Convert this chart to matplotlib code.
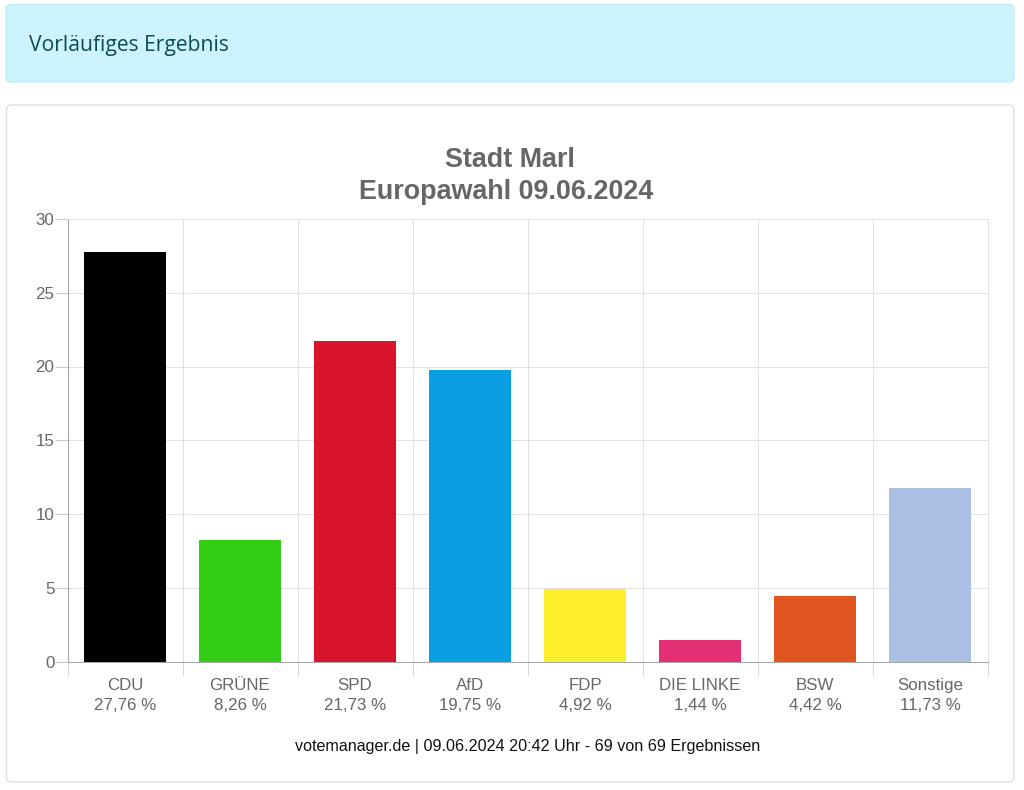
import matplotlib
matplotlib.use("Agg")
import matplotlib.pyplot as plt
from matplotlib.patches import FancyBboxPatch

parties = ["CDU", "GRÜNE", "SPD", "AfD", "FDP", "DIE LINKE", "BSW", "Sonstige"]
shares = [27.76, 8.26, 21.73, 19.75, 4.92, 1.44, 4.42, 11.73]
share_labels = ["27,76 %", "8,26 %", "21,73 %", "19,75 %", "4,92 %", "1,44 %", "4,42 %", "11,73 %"]
colors = ["#000000", "#32CD14", "#D7142A", "#0A9FE2", "#FCEE2A", "#E42F75", "#E05520", "#ABBEE3"]
y_ticks = [0, 5, 10, 15, 20, 25, 30]
title_lines = ["Stadt Marl", "Europawahl 09.06.2024"]
banner_text = "Vorläufiges Ergebnis"
footer_text = "votemanager.de | 09.06.2024 20:42 Uhr - 69 von 69 Ergebnissen"

W, H = 1024, 790
plt.rcParams['font.family'] = ['Liberation Sans', 'DejaVu Sans']
fig = plt.figure(figsize=(W / 100, H / 100), dpi=100, facecolor="white")

bg = fig.add_axes([0, 0, 1, 1], zorder=0)
bg.set_xlim(0, W)
bg.set_ylim(H, 0)
bg.axis("off")
bg.add_patch(FancyBboxPatch((6, 4.5), 1008, 77.5, boxstyle="round,pad=0,rounding_size=5",
                            fc="#CDF4FE", ec="#B9EBF6", lw=0.8))
bg.add_patch(FancyBboxPatch((6.5, 105), 1007.5, 677, boxstyle="round,pad=0,rounding_size=5",
                            fc="white", ec="#DEDEDE", lw=1))
bg.text(29, 46, banner_text, fontsize=15.25, color="#0E4A58", va="center", ha="left",
        family=['Open Sans', 'DejaVu Sans'])
bg.text(510, 160, title_lines[0], fontsize=19.4, fontweight="bold", color="#666666", ha="center", va="center")
bg.text(506, 192, title_lines[1], fontsize=19.4, fontweight="bold", color="#666666", ha="center", va="center")
bg.text(528, 746, footer_text, fontsize=11.6, color="#111111", ha="center", va="center")

L, R, T, B = 67.5, 987.5, 219, 661.5
ax = fig.add_axes([L / W, 1 - B / H, (R - L) / W, (B - T) / H], zorder=1)
ax.patch.set_alpha(0)
xs = list(range(len(parties)))
ax.bar(xs, shares, width=0.72, color=colors, zorder=3)
ax.set_xlim(-0.5, len(parties) - 0.5)
ax.set_ylim(0, 30)
ax.set_yticks(y_ticks)
ax.set_xticks([i - 0.5 for i in range(len(parties) + 1)])
ax.set_xticklabels([])
ax.grid(True, color="#E2E2E2", lw=0.75, zorder=0)
ax.set_axisbelow(True)
ax.tick_params(axis="y", length=9.5, width=0.75, color="#C8C8C8", labelsize=12.2,
               labelcolor="#666666", pad=0)
ax.tick_params(axis="x", length=10, width=0.75, color="#D8D8D8")
for side in ("top", "right"):
    ax.spines[side].set_color("#E2E2E2")
    ax.spines[side].set_linewidth(0.75)
ax.spines["left"].set_color("#A8A8A8")
ax.spines["bottom"].set_color("#A8A8A8")
ax.spines["left"].set_linewidth(0.75)
ax.spines["bottom"].set_linewidth(0.75)
for x, party, share in zip(xs, parties, share_labels):
    ax.annotate(party, (x, 0), xytext=(0, -24 * 0.72), textcoords="offset points",
                ha="center", va="center", fontsize=12.2, color="#666666")
    ax.annotate(share, (x, 0), xytext=(0, -44 * 0.72), textcoords="offset points",
                ha="center", va="center", fontsize=12.2, color="#666666")

fig.savefig("out.png", dpi=100)
